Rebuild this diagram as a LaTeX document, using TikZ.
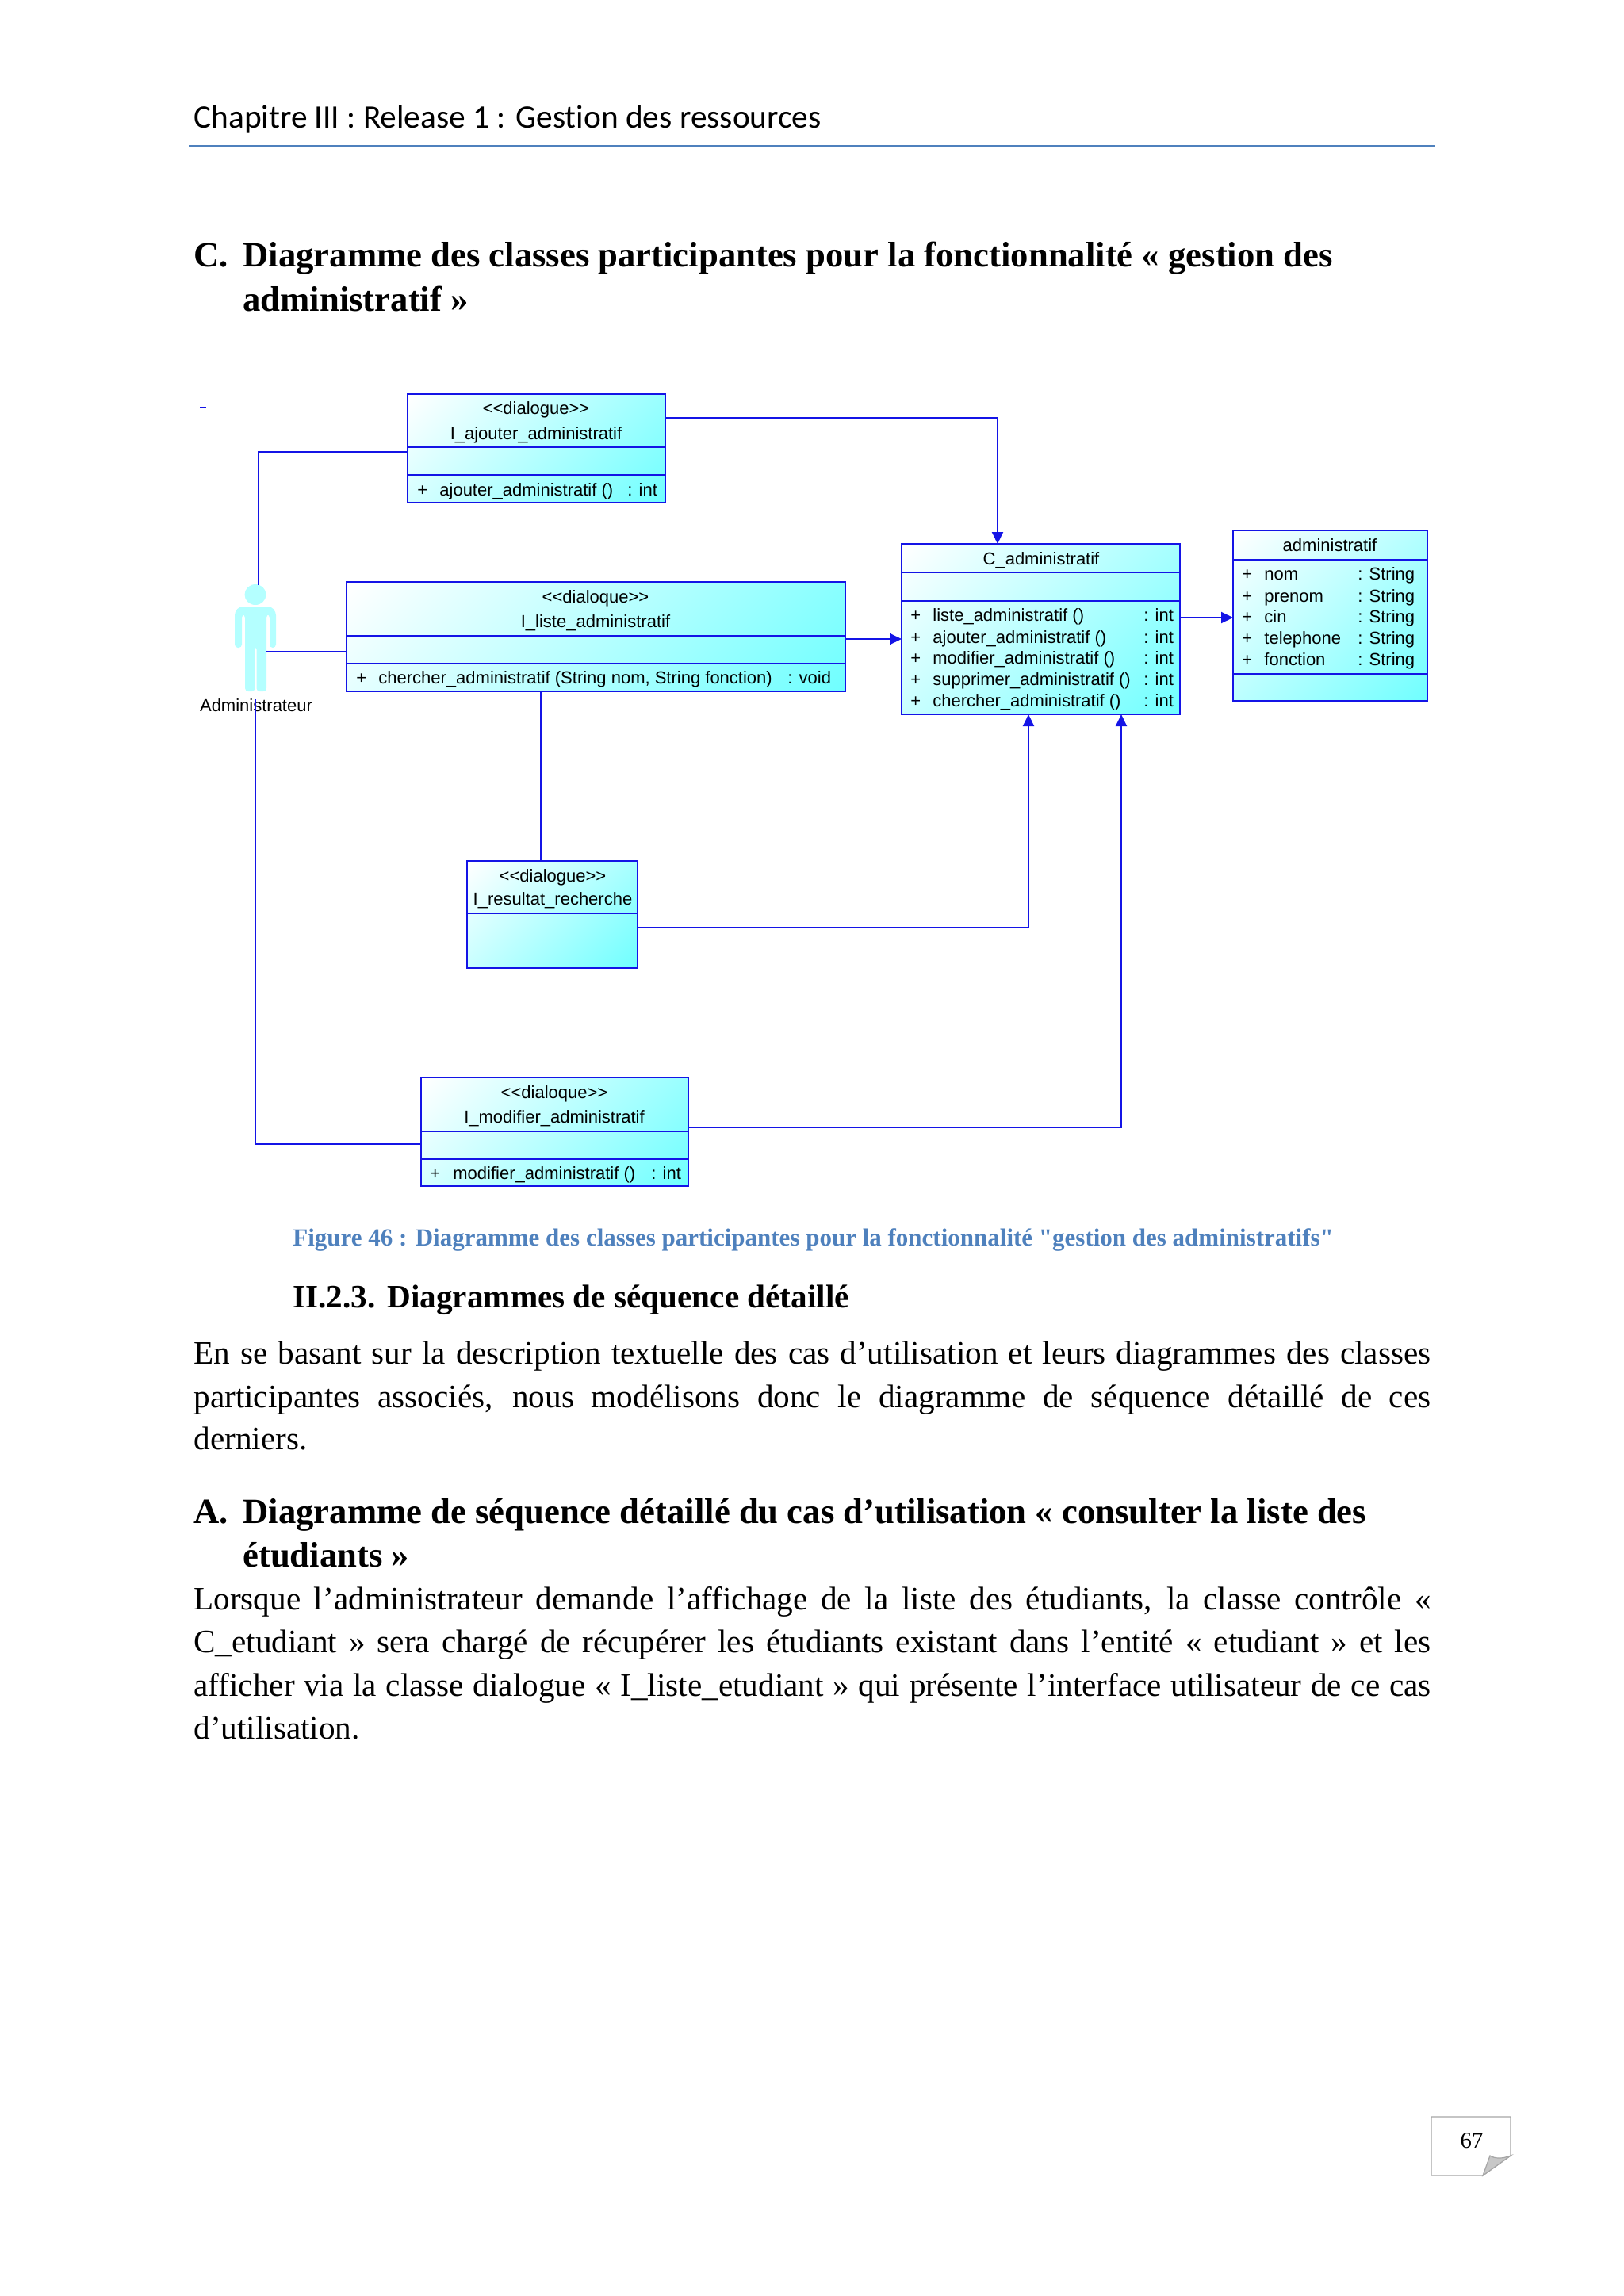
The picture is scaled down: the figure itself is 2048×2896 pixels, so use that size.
\documentclass[tikz,border=0pt]{standalone}
\usepackage{fontspec}
\setmainfont{Liberation Serif}
\newfontfamily\capf{Liberation Serif}
\newfontfamily\hdrf[Ligatures=NoCommon]{Carlito}
\newfontfamily\umlf{Liberation Sans}
\usetikzlibrary{arrows.meta,calc}
\definecolor{umlblue}{HTML}{1414E6}
\definecolor{umlcyan}{HTML}{70FFFF}
\definecolor{actcyan}{HTML}{B4FFFF}
\definecolor{capblue}{HTML}{4F81BD}
\definecolor{rulegray}{HTML}{A6A6A6}
\pgfdeclareverticalshading{umlsh}{100bp}{color(0bp)=(umlcyan); color(15bp)=(umlcyan); color(85bp)=(white); color(100bp)=(white)}
\tikzset{
  umlbox/.style={draw=umlblue,line width=1.3pt,rectangle,inner sep=0pt,outer sep=0pt,anchor=north west,
     shade,shading=umlsh,shading angle=45},
  sep/.style={draw=umlblue,line width=1.1pt},
  conn/.style={draw=umlblue,line width=1pt},
  arr/.style={conn,-{Triangle[length=7.5pt,width=7pt,fill=umlblue]}},
  umlt/.style={font=\umlf\fontsize{11}{13}\selectfont,inner sep=0pt,anchor=mid,text=black,yshift=-2pt},
  umll/.style={umlt,anchor=mid west},
  pagetxt/.style={inner sep=0pt,anchor=mid west,text=black,yshift=-4.5pt,font=\fontsize{20.6}{24}\selectfont},
  headtxt/.style={inner sep=0pt,anchor=mid west,text=black,yshift=-5.5pt,font=\bfseries\fontsize{22.35}{28}\selectfont},
  subtxt/.style={inner sep=0pt,anchor=mid west,text=black,yshift=-4.5pt,font=\bfseries\fontsize{20.6}{25}\selectfont},
}
\newcommand{\ubox}[5]{\pgfmathsetmacro{\ww}{(#4-#2)*0.5}\pgfmathsetmacro{\hh}{(#5-#3)*0.5}
  \node[umlbox,minimum width=\ww pt,minimum height=\hh pt] (#1) at (#2,#3) {};}
\newcommand{\usep}[2]{\draw[sep] (#1.west |- 0,#2) -- (#1.east |- 0,#2);}
\newcommand{\jline}[3]{\node[pagetxt] (#1) at (244,#2) {\makebox[780pt][s]{#3}};}
\begin{document}
\begin{tikzpicture}[x=0.5pt,y=-0.5pt]
\useasboundingbox (0,0) rectangle (2048,2896);
% page header
\node[inner sep=0pt,anchor=mid west,yshift=-4.5pt,font=\hdrf\fontsize{20.7}{24}\selectfont] (hdr) at (244,148) {Chapitre III : Release 1 : Gestion des ressources};
\coordinate (ruleA) at (238,184); \coordinate (ruleB) at (1810,184);
\draw[capblue,line width=0.8pt] (ruleA) -- (ruleB);
% heading C
\node[headtxt] (hc) at (244,321) {C.};
\node[headtxt] (hc1) at (306,321) {Diagramme des classes participantes pour la fonctionnalité « gestion des};
\node[headtxt] (hc2) at (306,377) {administratif »};
% boxes
\ubox{iaj}{514}{497}{839}{634}
\ubox{ili}{437}{734}{1066}{872}
\ubox{cad}{1137}{686}{1488}{901}
\ubox{adm}{1555}{669}{1800}{884}
\ubox{ire}{589}{1086}{804}{1221}
\ubox{imo}{531}{1359}{868}{1496}
\usep{iaj}{564}\usep{iaj}{599}
\usep{ili}{802}\usep{ili}{837}
\usep{cad}{722}\usep{cad}{758}
\usep{adm}{706}\usep{adm}{850}
\usep{ire}{1152}
\usep{imo}{1427}\usep{imo}{1462}
% actor
\fill[actcyan] (322,750) ellipse (13.5 and 13);
\fill[actcyan,rounded corners=2pt] (296,817) -- (296,772) -- (302,765) -- (342,765) -- (348,772) -- (348,817) -- (340,817) -- (340,775) -- (336,775) -- (336,872) -- (323.5,872) -- (323.5,815) -- (321.5,815) -- (321.5,872) -- (309,872) -- (309,775) -- (305,775) -- (305,817) -- cycle;
\node[umlt] (actor) at (323,889) {Administrateur};
\coordinate (dashA) at (252,514); \coordinate (dashB) at (260,514);
\draw[umlblue,line width=1pt] (dashA) -- (dashB);
% connectors
\coordinate (headtop) at (326,738);
\coordinate (actR) at (336,822);
\coordinate (actB) at (322,882);
\draw[conn] (iaj.west |- 0,570) -| (headtop);
\draw[conn] (actR) -- (ili.west |- actR);
\draw[conn] (actB) |- (imo.west |- 0,1443);
\draw[arr] (iaj.east |- 0,527) -| (cad.north -| 1258,0);
\draw[arr] (ili.east |- 0,806) -- (cad.west |- 0,806);
\draw[arr] (cad.east |- 0,779) -- (adm.west |- 0,779);
\draw[conn] (ili.south -| 682,0) -- (ire.north -| 682,0);
\draw[arr] (ire.east |- 0,1170) -| (cad.south -| 1297,0);
\draw[arr] (imo.east |- 0,1422) -| (cad.south -| 1414,0);
% box texts
\node[umlt] (t1) at (676,514) {<{}<dialogue>{}>};
\node[umlt] (t2) at (676,546) {I\_ajouter\_administratif};
\node[umll] (t3) at (526,617) {+};
\node[umll] (t4) at (554,617) {ajouter\_administratif ()};
\node[umll] (t5) at (791,617) {: int};
\node[umlt] (t6) at (751,752) {<{}<dialoque>{}>};
\node[umlt] (t7) at (751,783) {I\_liste\_administratif};
\node[umll] (t8) at (449,854) {+};
\node[umll] (t9) at (477,854) {chercher\_administratif (String nom, String fonction)};
\node[umll] (t10) at (993,854) {: void};
\node[umlt] (t11) at (1313,704) {C\_administratif};
\foreach \yy/\nm [count=\i] in {775/liste,803/ajouter,829/modifier,856/supprimer,883/chercher}{
  \node[umll] (ca\i) at (1148,\yy) {+};
  \node[umll] (cb\i) at (1176,\yy) {\nm\_administratif ()};
  \node[umll] (cc\i) at (1442,\yy) {: int};
}
\node[umlt] (t12) at (1677,687) {administratif};
\foreach \yy/\nm [count=\i] in {723/nom,751/prenom,777/cin,804/telephone,831/fonction}{
  \node[umll] (aa\i) at (1566,\yy) {+};
  \node[umll] (ab\i) at (1594,\yy) {\nm};
  \node[umll] (ac\i) at (1712,\yy) {: String};
}
\node[umlt] (t13) at (697,1104) {<{}<dialogue>{}>};
\node[umlt] (t14) at (697,1133) {I\_resultat\_recherche};
\node[umlt] (t15) at (699,1377) {<{}<dialoque>{}>};
\node[umlt] (t16) at (699,1408) {I\_modifier\_administratif};
\node[umll] (t17) at (542,1479) {+};
\node[umll] (t18) at (571,1479) {modifier\_administratif ()};
\node[umll] (t19) at (821,1479) {: int};
% caption
\node[inner sep=0pt,anchor=mid west,text=capblue,yshift=-3.5pt,font=\capf\bfseries\fontsize{15.5}{20}\selectfont] (cap) at (369,1560) {Figure 46 : Diagramme des classes participantes pour la fonctionnalité "gestion des administratifs"};
% II.2.3
\node[subtxt] (s1) at (369,1636) {II.2.3.};
\node[subtxt] (s2) at (488,1636) {Diagrammes de séquence détaillé};
\jline{p1}{1707}{En se basant sur la description textuelle des cas d’utilisation et leurs diagrammes des classes}
\jline{p2}{1762}{participantes associés, nous modélisons donc le diagramme de séquence détaillé de ces}
\node[pagetxt] (p3) at (244,1815) {derniers.};
\node[headtxt] (ha) at (244,1906) {A.};
\node[headtxt] (ha1) at (306,1906) {Diagramme de séquence détaillé du cas d’utilisation « consulter la liste des};
\node[headtxt] (ha2) at (306,1961) {étudiants »};
\jline{q1}{2017}{Lorsque l’administrateur demande l’affichage de la liste des étudiants, la classe contrôle «}
\jline{q2}{2071}{C\_etudiant » sera chargé de récupérer les étudiants existant dans l’entité « etudiant » et les}
\jline{q3}{2126}{afficher via la classe dialogue « I\_liste\_etudiant » qui présente l’interface utilisateur de ce cas}
\node[pagetxt] (q4) at (244,2180) {d’utilisation.};
% page number
\draw[rulegray,line width=0.6pt,fill=white] (1805,2670) -- (1905,2670) -- (1905,2719) -- (1870,2744) -- (1805,2744) -- cycle;
\draw[rulegray,line width=0.6pt,fill=black!22] (1870,2744) -- (1879,2719) .. controls (1885,2723) and (1895,2723) .. (1905,2719) -- cycle;
\node[inner sep=0pt,font=\fontsize{14.3}{16}\selectfont] (pg) at (1856,2700) {67};
\end{tikzpicture}
\end{document}
